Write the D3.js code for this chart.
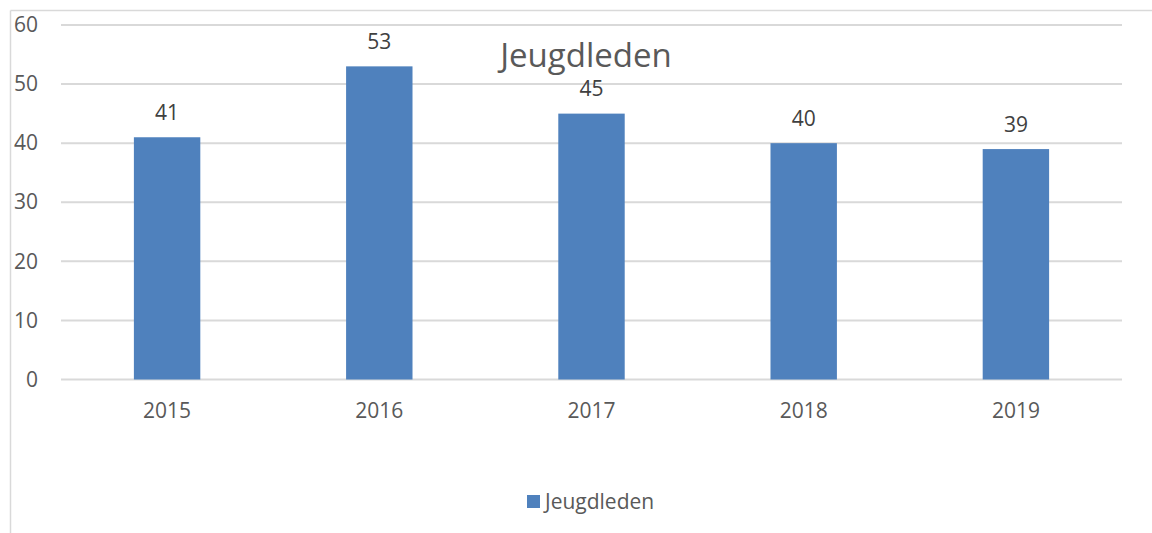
<!DOCTYPE html>
<html>
<head>
<meta charset="utf-8">
<script src="https://cdn.jsdelivr.net/npm/d3@7"></script>
<style>
  body { margin: 0; background: #fff; }
  svg { font-family: "Open Sans", "Noto Sans", sans-serif; }
</style>
</head>
<body>
<script>
let w = 1152;
let h = 533;

// data
let years = ["2015", "2016", "2017", "2018", "2019"];
let members = [41, 53, 45, 40, 39];
let yTicks = [0, 10, 20, 30, 40, 50, 60];
let seriesName = "Jeugdleden";

let margin = { top: 25, right: 30, bottom: 153.5, left: 61 };

let svg = d3.select("body")
  .append("svg")
  .attr("width", w)
  .attr("height", h);

// chart frame (left and top edge visible)
svg.append("line")
  .attr("x1", 10.5).attr("x2", 10.5)
  .attr("y1", 10.5).attr("y2", h)
  .attr("stroke", "#d9d9d9").attr("stroke-width", 1.5);
svg.append("line")
  .attr("x1", 10.5).attr("x2", w)
  .attr("y1", 10.5).attr("y2", 10.5)
  .attr("stroke", "#d9d9d9").attr("stroke-width", 1.5);

let xScale = d3.scaleBand()
  .domain(years)
  .range([margin.left, w - margin.right])
  .paddingInner(0.687)
  .paddingOuter(0.3435);

let yScale = d3.scaleLinear()
  .domain([0, 60])
  .range([h - margin.bottom, margin.top]);

// gridlines
svg.append("g")
  .selectAll("line")
  .data(yTicks)
  .enter()
  .append("line")
  .attr("x1", margin.left)
  .attr("x2", w - margin.right)
  .attr("y1", d => yScale(d))
  .attr("y2", d => yScale(d))
  .attr("stroke", "#d9d9d9")
  .attr("stroke-width", 2);

// y axis labels
let yAxis = d3.axisLeft(yScale).tickValues(yTicks).tickSize(0).tickPadding(0);
let yg = svg.append("g")
  .attr("transform", "translate(38,0)")
  .call(yAxis);
yg.select(".domain").remove();
yg.selectAll("text")
  .attr("font-family", "Open Sans")
  .attr("font-size", "21px")
  .attr("fill", "#595959");

// x axis labels
let xAxis = d3.axisBottom(xScale).tickSize(0).tickPadding(0);
let xg = svg.append("g")
  .attr("transform", "translate(0," + (yScale(0) + 23.5) + ")")
  .call(xAxis);
xg.select(".domain").remove();
xg.selectAll("text")
  .attr("font-family", "Open Sans")
  .attr("font-size", "21px")
  .attr("fill", "#595959");

// bars
svg.selectAll("rect.bar")
  .data(members)
  .enter()
  .append("rect")
  .attr("class", "bar")
  .attr("x", (d, i) => xScale(years[i]))
  .attr("y", d => yScale(d))
  .attr("width", xScale.bandwidth())
  .attr("height", d => yScale(0) - yScale(d))
  .attr("fill", "#4f81bd");

// value labels
svg.selectAll("text.val")
  .data(members)
  .enter()
  .append("text")
  .attr("class", "val")
  .text(d => d)
  .attr("text-anchor", "middle")
  .attr("x", (d, i) => xScale(years[i]) + xScale.bandwidth() / 2)
  .attr("y", d => yScale(d) - 17.5)
  .attr("font-size", "21px")
  .attr("fill", "#404040");

// title
svg.append("text")
  .text(seriesName)
  .attr("x", 586)
  .attr("y", 66.5)
  .attr("text-anchor", "middle")
  .attr("font-size", "33px")
  .attr("fill", "#595959");

// legend
svg.append("rect")
  .attr("x", 527)
  .attr("y", 495)
  .attr("width", 13)
  .attr("height", 13)
  .attr("fill", "#4f81bd");
svg.append("text")
  .text(seriesName)
  .attr("x", 545)
  .attr("y", 508.5)
  .attr("font-size", "21px")
  .attr("fill", "#595959");
</script>
</body>
</html>
